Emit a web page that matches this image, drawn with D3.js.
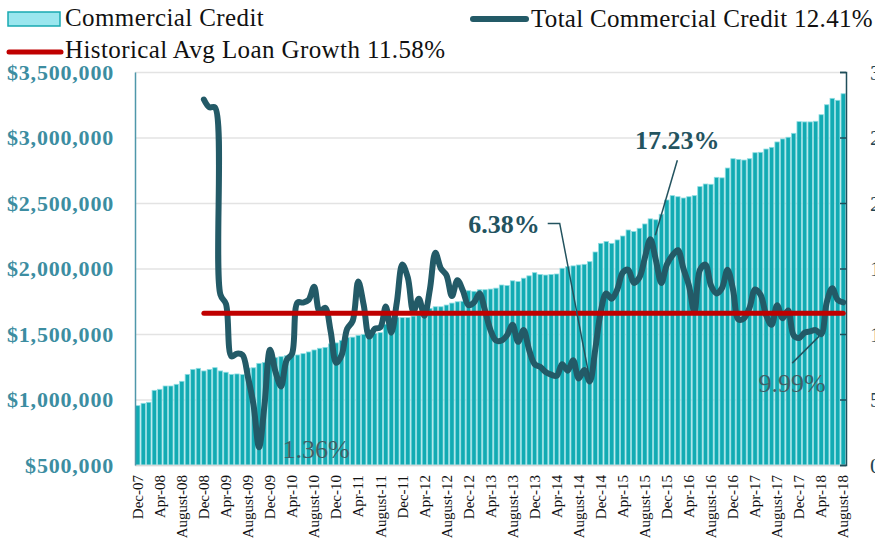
<!DOCTYPE html>
<html>
<head>
<meta charset="utf-8">
<script src="https://cdnjs.cloudflare.com/ajax/libs/d3/7.8.5/d3.min.js"></script>
<style>
body { margin: 0; background: #fff; }
svg { display: block; }
</style>
</head>
<body>
<div id="chart"></div>
<script>
// monthly commercial credit ($ thousands), Dec-07 .. Aug-18
var credit = [
    953, 971, 979, 1070, 1078, 1103, 1103, 1116, 1139, 1192, 1230, 1238,
    1218, 1230, 1243, 1218, 1208, 1192, 1195, 1190, 1240, 1242, 1276, 1282,
    1311, 1319, 1327, 1334, 1340, 1340, 1350, 1363, 1378, 1391, 1398, 1424,
    1432, 1450, 1472, 1476, 1490, 1497, 1493, 1505, 1510, 1575, 1605, 1628,
    1625, 1625, 1637, 1645, 1628, 1696, 1708, 1708, 1721, 1736, 1746, 1750,
    1830, 1826, 1838, 1838, 1843, 1850, 1874, 1870, 1906, 1900, 1926, 1944,
    1968, 1955, 1950, 1955, 1958, 2002, 2014, 2020, 2027, 2032, 2052, 2126,
    2192, 2206, 2192, 2218, 2248, 2294, 2282, 2307, 2340, 2379, 2372, 2414,
    2523, 2556, 2548, 2538, 2548, 2556, 2625, 2645, 2643, 2696, 2692, 2767,
    2838, 2833, 2828, 2838, 2884, 2887, 2912, 2925, 2966, 2989, 3002, 3032,
    3121, 3119, 3119, 3124, 3174, 3250, 3299, 3284, 3334
];

// year-over-year growth (%), Dec-08 .. Aug-18
var growthStart = 12;
var growth = [
    27.9, 27.3, 27.3, 13.0, 12.3, 8.3, 8.5, 8.4, 6.7, 4.6,
    1.36, 4.6, 8.8, 7.1, 6.0, 8.0, 8.5, 12.4, 12.4, 12.6,
    13.6, 11.7, 12.0, 10.2, 7.8, 8.4, 10.4, 11.0, 14.0, 12.2,
    9.8, 10.4, 10.5, 12.1, 10.1, 12.4, 15.3, 14.3, 11.7, 12.7,
    11.4, 13.4, 16.2, 15.0, 14.5, 12.9, 14.1, 13.3, 12.2, 12.4,
    13.1, 11.8, 10.3, 9.5, 9.5, 9.9, 10.7, 9.4, 10.3, 8.8,
    7.7, 7.5, 7.1, 6.9, 6.8, 7.7, 7.2, 8.0, 6.6, 7.25,
    6.38, 8.8, 11.7, 13.1, 12.7, 13.4, 14.7, 14.9, 13.9, 14.3,
    15.8, 17.23, 15.65, 13.9, 15.3, 16.0, 16.4, 15.0, 13.7, 11.7,
    14.9, 15.3, 13.7, 13.1, 13.5, 14.9, 13.4, 11.1, 11.2, 12.0,
    13.4, 13.0, 11.45, 10.7, 12.2, 11.2, 11.8, 9.9, 9.7, 10.1,
    10.2, 10.3, 9.99, 12.4, 13.5, 12.6, 12.41
];

var avgGrowth = 11.58;
var totalGrowth = 12.41;

var xTickLabels = ["Dec-07", "Apr-08", "August-08", "Dec-08", "Apr-09", "August-09",
    "Dec-09", "Apr-10", "August-10", "Dec-10", "Apr-11", "August-11", "Dec-11",
    "Apr-12", "August-12", "Dec-12", "Apr-13", "August-13", "Dec-13", "Apr-14",
    "August-14", "Dec-14", "Apr-15", "August-15", "Dec-15", "Apr-16", "August-16",
    "Dec-16", "Apr-17", "August-17", "Dec-17", "Apr-18", "August-18"];
var leftTicks = [500, 1000, 1500, 2000, 2500, 3000, 3500];
var rightTicks = [0, 5, 10, 15, 20, 25, 30];

// annotated points: index into credit months
var notes = [
    { i: 22, text: "1.36%" },
    { i: 82, text: "6.38%" },
    { i: 93, text: "17.23%" },
    { i: 124, text: "9.99%" }
];

var serif = '"Palatino Linotype", "Book Antiqua", Palatino, "Liberation Serif", serif';
var width = 875, height = 540;
var plotLeft = 135, plotRight = 846, plotTop = 72, plotBottom = 465;

var svg = d3.select("#chart").append("svg")
    .attr("width", width)
    .attr("height", height)
    .style("font-family", serif);

var x = d3.scaleBand()
    .domain(d3.range(credit.length))
    .range([plotLeft, plotRight])
    .paddingInner(0.2)
    .paddingOuter(0.1);

var yL = d3.scaleLinear().domain([500, 3500]).range([plotBottom, plotTop]);
var yR = d3.scaleLinear().domain([0, 30]).range([plotBottom, plotTop]);

function cx(i) { return x(i) + x.bandwidth() / 2; }

// gridlines
svg.append("g")
    .attr("transform", "translate(" + plotLeft + ",0)")
    .call(d3.axisLeft(yL).tickValues(leftTicks).tickSize(-(plotRight - plotLeft)).tickFormat(""))
    .call(function(g) { g.select(".domain").remove(); })
    .selectAll("line")
    .style("stroke", "#e3e3e3")
    .style("stroke-width", 1.5);

// bars
svg.selectAll(".bar")
    .data(credit)
    .enter().append("rect")
    .attr("class", "bar")
    .attr("x", function(d, i) { return x(i); })
    .attr("width", x.bandwidth())
    .attr("y", function(d) { return yL(d); })
    .attr("height", function(d) { return plotBottom - yL(d); })
    .style("fill", "#12abb3")
    .style("stroke", "#8fdde2")
    .style("stroke-width", 0.8);

// bottom axis
var xAxis = svg.append("g")
    .attr("transform", "translate(0," + plotBottom + ")")
    .call(d3.axisBottom(x)
        .tickValues(d3.range(0, credit.length, 4))
        .tickSize(0)
        .tickFormat(function(d, k) { return xTickLabels[k]; }));
xAxis.attr("font-family", serif);
xAxis.select(".domain").style("stroke", "#d9d9d9").style("stroke-width", 1.5);
xAxis.selectAll("text")
    .attr("y", 0)
    .attr("x", -10)
    .attr("dy", "0.35em")
    .attr("transform", "rotate(-90)")
    .style("text-anchor", "end")
    .style("font-size", "15px")
    .style("fill", "#111");

// left axis
var yAxisL = svg.append("g")
    .attr("transform", "translate(" + plotLeft + ",0)")
    .call(d3.axisLeft(yL)
        .tickValues(leftTicks)
        .tickSize(0)
        .tickPadding(21)
        .tickFormat(function(d) { return "$" + d3.format(",")(d * 1000); }));
yAxisL.attr("font-family", serif);
yAxisL.select(".domain").style("stroke", "#4f97aa").style("stroke-width", 1.5);
yAxisL.selectAll("text")
    .style("font-size", "22px")
    .style("font-weight", "bold")
    .style("letter-spacing", "0.8px")
    .style("fill", "#3c8da1");

// right axis (labels cut by the page edge)
var yAxisR = svg.append("g")
    .attr("transform", "translate(" + plotRight + ",0)")
    .call(d3.axisRight(yR)
        .tickValues(rightTicks)
        .tickSize(-6)
        .tickSizeOuter(-6)
        .tickPadding(24)
        .tickFormat(function(d) { return d + "%"; }));
yAxisR.attr("font-family", serif);
yAxisR.select(".domain").style("stroke", "#1f4e5a").style("stroke-width", 1.5);
yAxisR.selectAll("line").style("stroke", "#1f4e5a").style("stroke-width", 1.5);
yAxisR.selectAll("text")
    .style("font-size", "22px")
    .style("fill", "#1f4452");

// growth line
var line = d3.line()
    .x(function(d, k) { return cx(k + growthStart); })
    .y(function(d) { return yR(d); })
    .curve(d3.curveCatmullRom.alpha(0.5));

svg.append("path")
    .attr("d", line(growth))
    .style("fill", "none")
    .style("stroke", "#235a67")
    .style("stroke-width", 6)
    .style("stroke-linejoin", "round")
    .style("stroke-linecap", "round");

// historical average
svg.append("line")
    .attr("x1", cx(growthStart))
    .attr("x2", cx(credit.length - 1))
    .attr("y1", yR(avgGrowth))
    .attr("y2", yR(avgGrowth))
    .style("stroke", "#c00000")
    .style("stroke-width", 5)
    .style("stroke-linecap", "round");

// annotations
function pt(i) { return [cx(i), yR(growth[i - growthStart])]; }

var ann = svg.append("g");

var p1 = pt(notes[0].i);
ann.append("text")
    .attr("x", p1[0] + 57).attr("y", p1[1] + 11)
    .attr("text-anchor", "middle")
    .style("font-size", "26px")
    .style("fill", "#425f66")
    .text(notes[0].text);

var p2 = pt(notes[1].i);
ann.append("path")
    .attr("d", "M" + (p2[0] - 42) + "," + (p2[1] - 158) + "H" + (p2[0] - 30) + "L" + p2[0] + "," + (p2[1] - 2))
    .style("fill", "none").style("stroke", "#23535f").style("stroke-width", 1.5);
ann.append("text")
    .attr("x", p2[0] - 50).attr("y", p2[1] - 148)
    .attr("text-anchor", "end")
    .style("font-size", "26px")
    .style("font-weight", "bold")
    .style("fill", "#23535f")
    .text(notes[1].text);

var p3 = pt(notes[2].i);
ann.append("line")
    .attr("x1", p3[0] + 27).attr("y1", p3[1] - 79)
    .attr("x2", p3[0] + 5).attr("y2", p3[1] - 4)
    .style("stroke", "#23535f").style("stroke-width", 1.5);
ann.append("text")
    .attr("x", p3[0] + 27).attr("y", p3[1] - 90)
    .attr("text-anchor", "middle")
    .style("font-size", "26px")
    .style("font-weight", "bold")
    .style("fill", "#23535f")
    .text(notes[2].text);

var p4 = pt(notes[3].i);
ann.append("line")
    .attr("x1", p4[0] - 2).attr("y1", p4[1] + 2)
    .attr("x2", p4[0] - 29).attr("y2", p4[1] + 29)
    .style("stroke", "#23535f").style("stroke-width", 1.5);
ann.append("text")
    .attr("x", p4[0] - 29).attr("y", p4[1] + 58)
    .attr("text-anchor", "middle")
    .style("font-size", "26px")
    .style("fill", "#425f66")
    .text(notes[3].text);

// legend
var legend = svg.append("g")
    .style("font-size", "25px")
    .style("letter-spacing", "0.4px")
    .style("fill", "#111");

legend.append("rect")
    .attr("x", 8).attr("y", 12).attr("width", 52).attr("height", 14)
    .style("fill", "#9ae6ee").style("stroke", "#19a9b1").style("stroke-width", 1.5);
legend.append("text").attr("x", 65).attr("y", 26).text("Commercial Credit");

legend.append("line")
    .attr("x1", 473).attr("x2", 526).attr("y1", 19).attr("y2", 19)
    .style("stroke", "#235a67").style("stroke-width", 6).style("stroke-linecap", "round");
legend.append("text").attr("x", 531).attr("y", 27)
    .style("letter-spacing", "0.3px")
    .text("Total Commercial Credit " + totalGrowth + "%");

legend.append("line")
    .attr("x1", 9).attr("x2", 61).attr("y1", 52).attr("y2", 52)
    .style("stroke", "#c00000").style("stroke-width", 5).style("stroke-linecap", "round");
legend.append("text").attr("x", 65).attr("y", 58).text("Historical Avg Loan Growth " + avgGrowth + "%");
</script>
</body>
</html>
